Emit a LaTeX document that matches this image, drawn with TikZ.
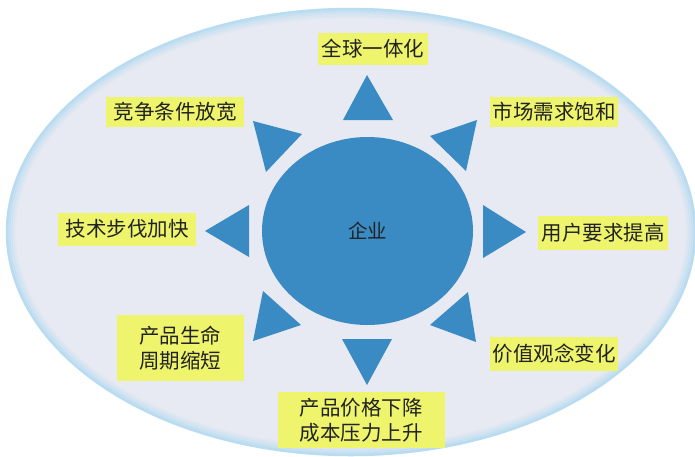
\documentclass[tikz,border=0pt]{standalone}
\usepackage{fontspec}
\usetikzlibrary{shapes.geometric}
\setmainfont{Noto Sans CJK SC}
\definecolor{bluefill}{HTML}{3A8BC3}
\definecolor{labelyellow}{HTML}{EEF46C}
\definecolor{ellfill}{HTML}{E8EAF3}
\definecolor{ellrim}{HTML}{B4DBF1}
\definecolor{txt}{HTML}{222222}
\tikzset{
  lab/.style={fill=labelyellow, inner sep=0pt, align=center, text=txt,
    font=\fontsize{20.5}{25}\selectfont},
  ray/.style={fill=bluefill},
}
\begin{document}
\begin{tikzpicture}[x=1pt,y=-1pt]
\useasboundingbox (0,0) rectangle (695,456);
\fill[white] (0,0) rectangle (695,456);
% background ellipse
\fill[ellfill] (351,232) ellipse [x radius=345, y radius=224];
\foreach \k/\op in {0/0.9,2/0.6,4/0.4,6/0.25,8/0.12}{
  \draw[ellrim, opacity=\op, line width=2.5pt] (351,232) ellipse [x radius={344-\k}, y radius={223-\k}];
}
% central circle
\node[fill=bluefill, ellipse, minimum width=211pt, minimum height=188pt, inner sep=0pt,
  text=txt, font=\fontsize{19.5}{22}\selectfont] (core) at (367.5,231) {企业};
% rays
\fill[ray] (367,75) -- (343,120) -- (393,120) -- cycle;
\fill[ray] (477,120) -- (430,136) -- (466,171) -- cycle;
\fill[ray] (526,232) -- (483,205) -- (483,258) -- cycle;
\fill[ray] (476,342) -- (468,292) -- (430,325) -- cycle;
\fill[ray] (367,385) -- (342,339) -- (392,339) -- cycle;
\fill[ray] (253,341) -- (263,291) -- (301,325) -- cycle;
\fill[ray] (205,231) -- (249,205) -- (249,257) -- cycle;
\fill[ray] (253,121) -- (302,134) -- (266,172) -- cycle;
% labels
\node[lab, minimum width=110pt, minimum height=32pt] (l1) at (373,49) {全球一体化};
\node[lab, minimum width=138pt, minimum height=30pt] (l2) at (175,112) {竞争条件放宽};
\node[lab, minimum width=128pt, minimum height=30pt] (l3) at (554,112) {市场需求饱和};
\node[lab, minimum width=138pt, minimum height=33pt] (l4) at (127,229) {技术步伐加快};
\node[lab, minimum width=130pt, minimum height=34pt] (l5) at (603,233) {用户要求提高};
\node[lab, minimum width=127pt, minimum height=66pt] (l6) at (180,348) {产品生命\\周期缩短};
\node[lab, minimum width=128pt, minimum height=34pt] (l7) at (554,354) {价值观念变化};
\node[lab, minimum width=167pt, minimum height=56pt] (l8) at (361,420) {产品价格下降\\成本压力上升};
\end{tikzpicture}
\end{document}
